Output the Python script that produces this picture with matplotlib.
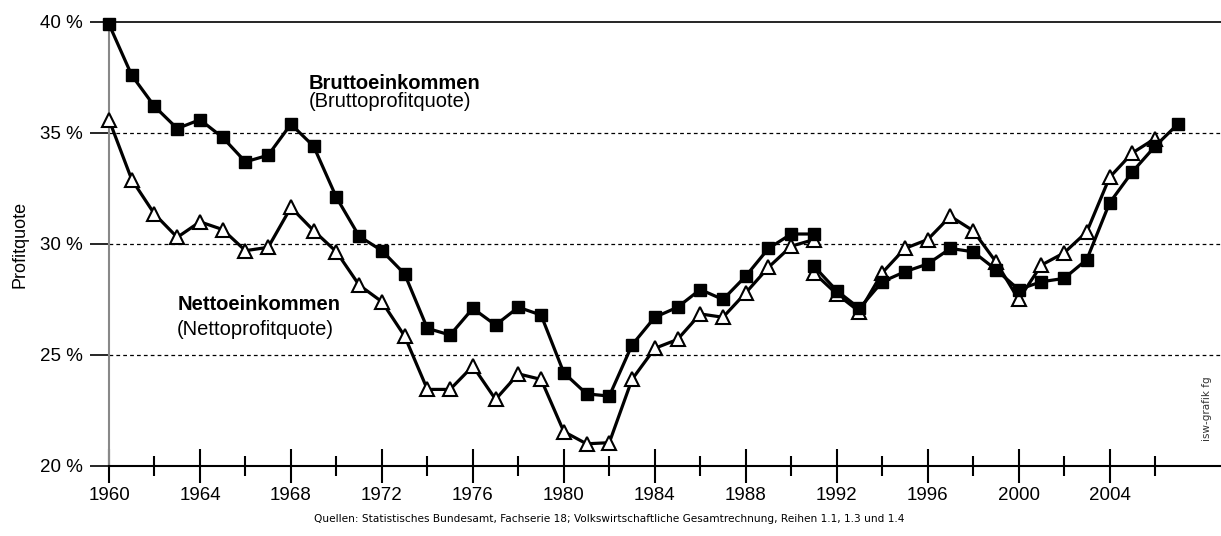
import numpy as np
import matplotlib.pyplot as plt

plt.rcParams['font.family'] = ['Liberation Sans', 'DejaVu Sans']

# Bruttoprofitquote, alte Laender bis 1991, danach Deutschland
jahre_alt = [1960, 1961, 1962, 1963, 1964, 1965, 1966, 1967, 1968, 1969,
             1970, 1971, 1972, 1973, 1974, 1975, 1976, 1977, 1978, 1979,
             1980, 1981, 1982, 1983, 1984, 1985, 1986, 1987, 1988, 1989,
             1990, 1991]
brutto_alt = [39.9, 37.6, 36.2, 35.2, 35.6, 34.8, 33.7, 34.0, 35.4, 34.4,
              32.1, 30.35, 29.7, 28.65, 26.2, 25.9, 27.1, 26.35, 27.15, 26.8,
              24.2, 23.25, 23.15, 25.45, 26.7, 27.15, 27.95, 27.5, 28.55, 29.8,
              30.45, 30.45]
netto_alt = [35.6, 32.9, 31.35, 30.3, 31.0, 30.65, 29.7, 29.85, 31.65, 30.6,
             29.65, 28.15, 27.4, 25.85, 23.45, 23.45, 24.5, 23.0, 24.15, 23.9,
             21.55, 21.0, 21.05, 23.9, 25.3, 25.7, 26.85, 26.7, 27.8, 28.95,
             29.9, 30.2]

jahre_neu = [1991, 1992, 1993, 1994, 1995, 1996, 1997, 1998, 1999, 2000,
             2001, 2002, 2003, 2004, 2005, 2006, 2007]
brutto_neu = [29.0, 27.9, 27.1, 28.3, 28.75, 29.1, 29.8, 29.65, 28.85, 27.95,
              28.3, 28.45, 29.3, 31.85, 33.25, 34.4, 35.4]
jahre_netto_neu = jahre_neu[:-1]
netto_neu = [28.7, 27.75, 26.95, 28.7, 29.8, 30.2, 31.25, 30.6, 29.2, 27.5,
             29.05, 29.6, 30.55, 33.0, 34.1, 34.75]

y_ticks = [20, 25, 30, 35, 40]
x_labels = list(range(1960, 2005, 4))

fig = plt.figure(figsize=(12.21, 5.36), dpi=100)
ax = fig.add_axes([109/1221, 70/536, 1112/1221, 444/536])

sq = dict(color='black', lw=2.3, marker='s', ms=8.5, mfc='black', mec='black',
          zorder=4, clip_on=False)
tri = dict(color='black', lw=2.3, marker='^', ms=10, mfc='white', mec='black',
           mew=1.5, zorder=3, clip_on=False)

ax.plot(jahre_alt, netto_alt, **tri)
ax.plot(jahre_netto_neu, netto_neu, **tri)
ax.plot(jahre_alt, brutto_alt, **sq)
ax.plot(jahre_neu, brutto_neu, **sq)

ax.set_xlim(1960, 2008.9)
ax.set_ylim(20, 40)
ax.set_yticks(y_ticks)
ax.set_yticklabels([f'{v} %' for v in y_ticks], fontsize=13.5)
ax.set_xticks(x_labels)
ax.set_xticklabels([str(v) for v in x_labels], fontsize=13.5)
ax.set_xticks(list(range(1962, 2007, 4)), minor=True)
ax.tick_params(axis='x', which='major', direction='inout', length=24, width=1.5, pad=3)
ax.tick_params(axis='x', which='minor', direction='inout', length=14, width=1.5)
ax.tick_params(axis='y', direction='out', length=14, width=1.2, pad=5)

for v in [25, 30, 35]:
    ax.axhline(v, color='black', lw=0.9, ls=(0, (3, 2.5)), zorder=1)

ax.spines['right'].set_visible(False)
ax.spines['top'].set_color('black')
ax.spines['top'].set_linewidth(1.2)
ax.spines['bottom'].set_linewidth(1.5)
ax.spines['left'].set_color('#888888')
ax.spines['left'].set_linewidth(1.5)
ax.spines['left'].set_zorder(2)

ax.set_ylabel('Profitquote', fontsize=13, labelpad=8)

ax.text(1968.8, 36.98, 'Bruttoeinkommen', fontsize=14.5, fontweight='bold', va='baseline')
ax.text(1968.8, 36.19, '(Bruttoprofitquote)', fontsize=14.5, va='baseline')
ax.text(1963.0, 27.03, 'Nettoeinkommen', fontsize=14.5, fontweight='bold', va='baseline')
ax.text(1963.0, 25.9, '(Nettoprofitquote)', fontsize=14.5, va='baseline')

fig.text(1207/1221, 1 - 409/536, 'isw-grafik fg', rotation=90, fontsize=7.5,
         color='#333333', ha='center', va='center', family='DejaVu Sans')
fig.text(609/1221, 1 - 519/536,
         'Quellen: Statistisches Bundesamt, Fachserie 18; Volkswirtschaftliche Gesamtrechnung, Reihen 1.1, 1.3 und 1.4',
         fontsize=7.6, ha='center', va='center', family='DejaVu Sans')

fig.savefig('out.png', dpi=100)
